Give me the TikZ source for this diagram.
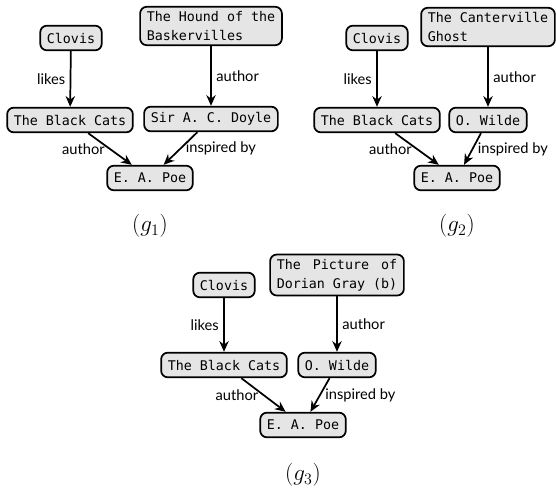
\documentclass[tikz,border=0pt]{standalone}
\usepackage{fontspec}
\setmainfont{Lato}
\setmonofont{DejaVu Sans Mono}
\usetikzlibrary{arrows.meta}

\tikzset{
    entity/.style={draw, line width=1.3pt, rounded corners=5pt, fill=gray!20,
        font=\ttfamily\linespread{1.2}\selectfont, align=left,
        inner xsep=5pt, minimum height=18.5pt},
    rel/.style={-{Stealth[length=8pt, width=7pt]}, line width=1.3pt,
        every node/.style={font=\fontsize{11}{13}\selectfont}},
    caption/.style={font=\LARGE}
}

\begin{document}
\begin{tikzpicture}[x=0.75pt, y=-0.75pt]
    \useasboundingbox (0,0) rectangle (556,492);

    % Graph g1
    \node[entity] (clovisA) at (71,38) {Clovis};
    \node[entity] (houndA) at (211,26) {The Hound of the\\Baskervilles};
    \node[entity] (catsA) at (70,120) {The Black Cats};
    \node[entity] (doyleA) at (211,119) {Sir A. C. Doyle};
    \node[entity] (poeA) at (150,178) {E. A. Poe};
    \draw[rel] (clovisA) -- (catsA) node[midway, left] {likes};
    \draw[rel] (houndA) -- (doyleA) node[midway, right] {author};
    \draw[rel] (catsA) -- (poeA) node[midway, left] {author};
    \draw[rel] (doyleA) -- (poeA) node[midway, right] {inspired by};
    \node[caption] (captA) at (150,226) {$(g_1)$};

    % Graph g2
    \node[entity] (clovisB) at (377,38) {Clovis};
    \node[entity] (ghostB) at (488,27) {The Canterville\\Ghost};
    \node[entity] (catsB) at (377,120) {The Black Cats};
    \node[entity] (wildeB) at (488,120) {O. Wilde};
    \node[entity] (poeB) at (457,178) {E. A. Poe};
    \draw[rel] (clovisB) -- (catsB) node[midway, left] {likes};
    \draw[rel] (ghostB) -- (wildeB) node[midway, right] {author};
    \draw[rel] (catsB) -- (poeB) node[midway, left] {author};
    \draw[rel] (wildeB) -- (poeB) node[midway, right] {inspired by};
    \node[caption] (captB) at (457,226) {$(g_2)$};

    % Graph g3
    \node[entity] (clovisC) at (224,285) {Clovis};
    \node[entity] (dorianC) at (337,275) {The\hspace{3pt} Picture\hspace{3pt} of\\Dorian Gray (b)};
    \node[entity] (catsC) at (224,365) {The Black Cats};
    \node[entity] (wildeC) at (337,365) {O. Wilde};
    \node[entity] (poeC) at (303,425) {E. A. Poe};
    \draw[rel] (clovisC) -- (catsC) node[midway, left] {likes};
    \draw[rel] (dorianC) -- (wildeC) node[midway, right] {author};
    \draw[rel] (catsC) -- (poeC) node[midway, left] {author};
    \draw[rel] (wildeC) -- (poeC) node[midway, right] {inspired by};
    \node[caption] (captC) at (303,475) {$(g_3)$};
\end{tikzpicture}
\end{document}
